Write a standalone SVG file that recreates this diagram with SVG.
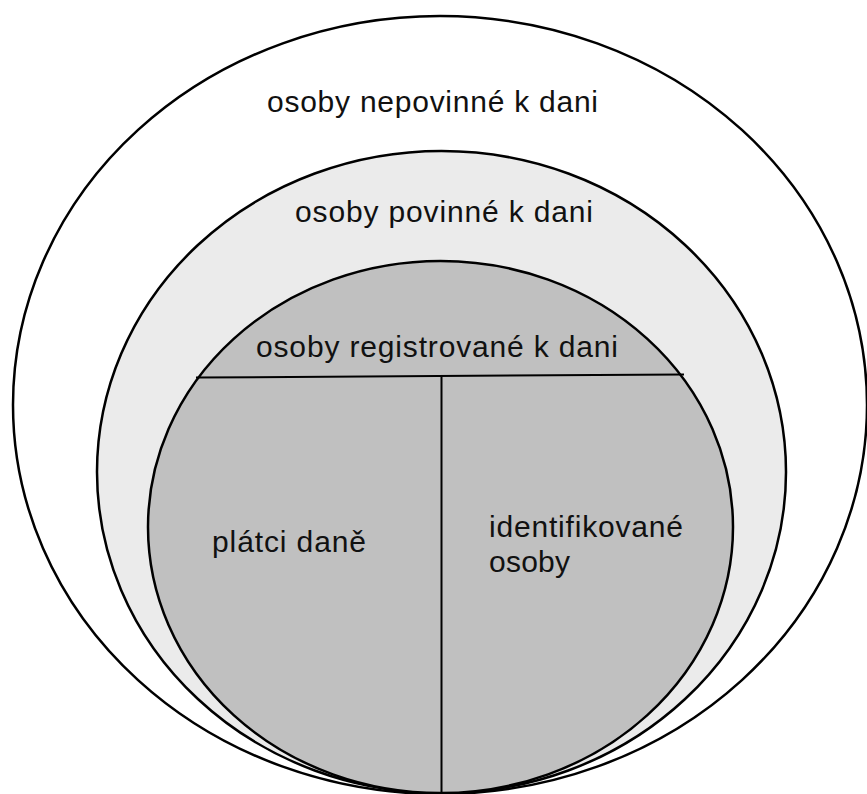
<svg xmlns="http://www.w3.org/2000/svg" width="867" height="794" viewBox="0 0 867 794">
  <style>
    .shape { stroke: #000; stroke-width: 2.5; }
    .lbl { font-family: "Liberation Sans", Arial, sans-serif; font-size: 30px; fill: #111; }
    .div { stroke: #000; stroke-width: 2; fill: none; }
  </style>
  <rect width="867" height="794" fill="#fff"/>
  <g id="nepovinne">
    <ellipse class="shape" cx="440" cy="405" rx="427" ry="389" fill="#fff"/>
    <text class="lbl" x="267" y="112" textLength="331" lengthAdjust="spacing">osoby nepovinné k dani</text>
  </g>
  <g id="povinne">
    <ellipse class="shape" cx="441.5" cy="472" rx="344.5" ry="321" fill="#ebebeb"/>
    <text class="lbl" x="295" y="222" textLength="298" lengthAdjust="spacing">osoby povinné k dani</text>
  </g>
  <g id="registrovane">
    <ellipse class="shape" cx="440.5" cy="527" rx="292.5" ry="266" fill="#c0c0c0"/>
    <text class="lbl" x="256" y="357" textLength="362" lengthAdjust="spacing">osoby registrované k dani</text>
  </g>
  <g id="connectors">
    <line class="div" x1="196" y1="377.5" x2="684" y2="374.5"/>
    <line class="div" x1="441.5" y1="376" x2="441.5" y2="794"/>
  </g>
  <g id="platci">
    <text class="lbl" x="212" y="552" textLength="154" lengthAdjust="spacing">plátci daně</text>
  </g>
  <g id="identifikovane">
    <text class="lbl" x="489" y="537" textLength="194" lengthAdjust="spacing">identifikované</text>
    <text class="lbl" x="489" y="572" textLength="81" lengthAdjust="spacing">osoby</text>
  </g>
</svg>
